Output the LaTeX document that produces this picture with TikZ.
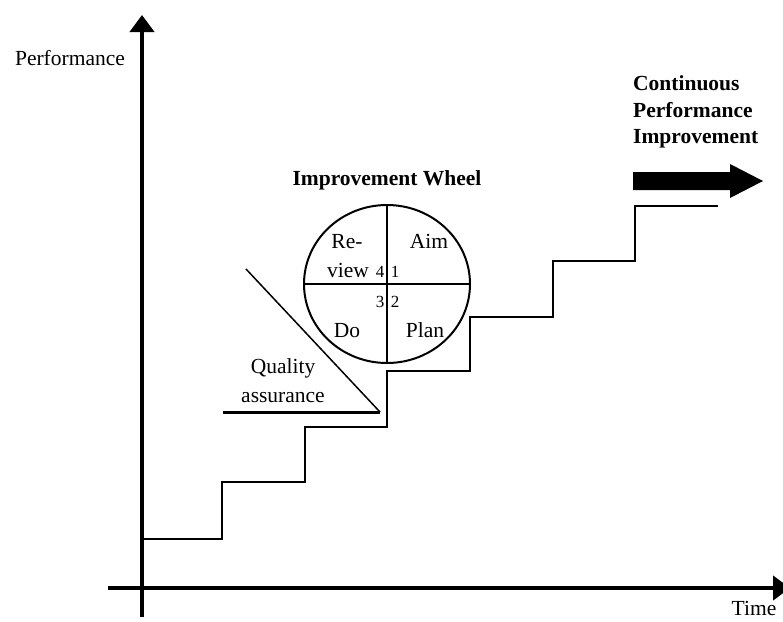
\documentclass[tikz,border=0pt]{standalone}
\usepackage{fontspec}
\setmainfont{Liberation Serif}
\usetikzlibrary{arrows.meta,shapes.geometric}
\begin{document}
\begin{tikzpicture}[x=1pt,y=-1pt,
  lbl/.style={font=\fontsize{21.5}{26}\selectfont, inner sep=0pt, anchor=base},
  hdr/.style={font=\fontsize{21.5}{26}\selectfont\bfseries, inner sep=0pt, anchor=base},
  num/.style={font=\fontsize{17}{20}\selectfont, inner sep=0pt, anchor=base},
  axis/.style={line width=4.5pt, -{Triangle[width=24pt,length=17pt]}},
  stair/.style={line width=2.2pt},
  wheelline/.style={line width=2pt}]
\useasboundingbox (0,0) rectangle (783,621);

% axes
\coordinate (o) at (142,588);
\coordinate (ybot) at (142,617);
\coordinate (ytop) at (142,15);
\coordinate (xleft) at (108,588);
\coordinate (xright) at (790,588);
\draw[axis] (ybot) -- (ytop);
\draw[axis] (xleft) -- (xright);
\node[lbl] (perf) at (70,65) {Performance};
\node[lbl] (time) at (754,615) {Time};

% staircase of performance levels
\draw[stair] (142,539) -- (222,539) -- (222,482) -- (305,482) -- (305,427)
  -- (387,427) -- (387,371) -- (470,371) -- (470,317) -- (553,317)
  -- (553,261) -- (635,261) -- (635,206) -- (718,206);

% improvement wheel
\node[hdr] (wtitle) at (387,185) {Improvement Wheel};
\node[draw, wheelline, ellipse, inner sep=0pt, minimum width=166pt,
  minimum height=158pt] (wheel) at (387,284) {};
\draw[wheelline] (wheel.north) -- (wheel.south);
\draw[wheelline] (wheel.west) -- (wheel.east);
\node[lbl] (re) at (347,248) {Re-};
\node[lbl] (view) at (348,277) {view};
\node[lbl] (aim) at (429,248) {Aim};
\node[lbl] (do) at (347,337) {Do};
\node[lbl] (plan) at (425,337) {Plan};
\node[num] (n4) at (380,277) {4};
\node[num] (n1) at (395,277) {1};
\node[num] (n3) at (380,307) {3};
\node[num] (n2) at (395,307) {2};

% quality assurance wedge
\coordinate (qa) at (380,412);
\coordinate (qtop) at (246,269);
\coordinate (qleft) at (223,412);
\draw[line width=1.5pt] (qtop) -- (qa);
\draw[line width=3pt] (qleft) -- (qa);
\node[lbl] (q1) at (283,373) {Quality};
\node[lbl] (q2) at (283,402) {assurance};

% continuous improvement arrow
\node[hdr, anchor=base west] (c1) at (633,90) {Continuous};
\node[hdr, anchor=base west] (c2) at (633,117) {Performance};
\node[hdr, anchor=base west] (c3) at (633,143) {Improvement};
\fill (633,172) -- (730,172) -- (730,164) -- (763,181) -- (730,198)
  -- (730,190) -- (633,190) -- cycle;
\end{tikzpicture}
\end{document}
